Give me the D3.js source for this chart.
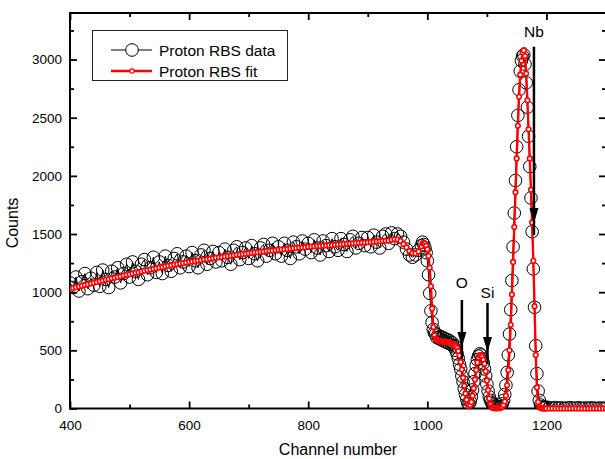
<!DOCTYPE html>
<html>
<head>
<meta charset="utf-8">
<script src="https://cdn.jsdelivr.net/npm/d3@7"></script>
<style>
body{margin:0;background:#fff;}
text{font-family:"Liberation Sans",Arial,sans-serif;fill:#000;}
</style>
</head>
<body>
<script>
// spectrum blocks: start channel, step, counts
const baseStart = 400, baseStep = 5
const peakStart = 990, peakStep = 2
const tailStart = 1200, tailStep = 5

const dataBase = [
  1080,1040,1130,1010,1090,1160,1030,1120,1060,1170,
  1050,1190,1110,1040,1180,1130,1210,1080,1160,1240,
  1130,1260,1180,1110,1240,1280,1150,1210,1300,1170,
  1260,1160,1310,1230,1180,1290,1330,1210,1260,1310,
  1220,1340,1270,1210,1320,1360,1240,1290,1350,1260,
  1340,1270,1370,1300,1240,1360,1390,1280,1340,1380,
  1290,1400,1330,1270,1380,1410,1310,1360,1420,1330,
  1390,1310,1420,1360,1290,1430,1390,1330,1440,1370,
  1420,1340,1450,1380,1320,1440,1400,1350,1460,1390,
  1360,1460,1410,1350,1450,1480,1380,1420,1470,1400,
  1470,1390,1490,1430,1380,1480,1500,1420,1510,1460,
  1500,1480,1430,1370,1320,1300,1320,1360]
const fitBase = [
  1030,1036,1043,1049,1056,1062,1069,1075,1082,1088,
  1095,1101,1107,1113,1119,1125,1131,1137,1143,1149,
  1155,1161,1167,1172,1178,1184,1190,1195,1201,1206,
  1212,1217,1222,1227,1232,1237,1242,1246,1251,1256,
  1260,1264,1268,1272,1276,1280,1284,1288,1292,1296,
  1300,1303,1307,1310,1314,1317,1321,1324,1328,1331,
  1335,1338,1341,1344,1347,1350,1353,1356,1359,1362,
  1365,1367,1370,1372,1375,1377,1380,1382,1385,1387,
  1390,1392,1394,1396,1398,1400,1402,1404,1406,1408,
  1410,1412,1414,1416,1418,1420,1422,1424,1426,1428,
  1430,1432,1434,1436,1438,1440,1442,1445,1450,1455,
  1452,1440,1415,1385,1355,1336,1335,1350]

const dataPeak = [
  1400,1430,1410,1380,1340,1270,1150,990,840,740,680,
  650,640,610,630,600,620,590,610,580,600,570,590,560,580,550,565,530,540,500,470,
  430,380,340,280,230,170,120,80,45,40,60,100,160,230,300,370,420,450,470,460,
  430,390,340,280,210,150,100,70,50,40,30,20,15,10,10,15,20,40,70,120,
  200,310,460,640,850,1100,1390,1680,1960,2250,2520,2740,2900,2990,3030,3040,2960,2800,2590,2340,
  2080,1810,1520,1200,870,540,300,150,70,30,15,10,5,5]
const fitPeak = [
  1395,1420,1425,1418,1400,1370,1310,1210,1050,860,700,
  630,600,590,585,582,580,578,576,574,572,570,568,566,563,560,556,551,545,536,520,
  495,455,400,335,265,195,130,75,35,20,30,55,110,175,250,330,395,440,460,458,
  445,420,385,320,240,160,85,35,12,5,3,2,2,2,3,5,8,15,30,60,
  110,200,330,500,720,980,1260,1560,1860,2150,2430,2680,2870,2990,3060,3080,3030,2880,2650,2400,
  2150,1880,1600,1270,880,460,180,55,15,5,2,1,1,1]

const dataTail = [12,6,3,8,2,5,1,4,7,2,3,6,1,4,2,5,3,1,4,2,3]
const fitTail = [1,1,1,1,1,1,1,1,1,1,1,1,1,1,1,1,1,1,1,1,1]

const xMajor = [400,600,800,1000,1200]
const xMinor = [500,700,900,1100,1300]
const yMajor = [0,500,1000,1500,2000,2500,3000]
const yMinor = [250,750,1250,1750,2250,2750,3250]

const labels = [
  {name:"O", channel:1058, from:933, to:529, at:1079},
  {name:"Si", channel:1101, from:907, to:486, at:993},
  {name:"Nb", channel:1179, from:3110, to:1595, at:3237}
]

const legendNames = ["Proton RBS data","Proton RBS fit"]

function block(start, step, counts) {
  return counts.map((c,i)=>({ch:start+i*step, c:c}))
}
const dataPts = [...block(baseStart,baseStep,dataBase), ...block(peakStart,peakStep,dataPeak), ...block(tailStart,tailStep,dataTail)]
const fitPts = [...block(baseStart,baseStep,fitBase), ...block(peakStart,peakStep,fitPeak), ...block(tailStart,tailStep,fitTail)]

const width = 605, height = 459
const L = 70, R = 606, T = 13, B = 408.5

const x = d3.scaleLinear().domain([400,1300]).range([L,R])
const y = d3.scaleLinear().domain([0,3400]).range([B,T])

const svg = d3.select("body").append("svg")
    .attr("width",width).attr("height",height)

svg.append("clipPath").attr("id","plotClip")
    .append("rect").attr("x",L).attr("y",T).attr("width",R-L).attr("height",B-T)
svg.append("clipPath").attr("id","fitClip")
    .append("rect").attr("x",L).attr("y",T).attr("width",R-L).attr("height",B-T+4)

// data
const dataG = svg.append("g").attr("clip-path","url(#plotClip)")
const line = d3.line().x(d=>x(d.ch)).y(d=>y(d.c))
dataG.append("path").datum(dataPts)
    .attr("d",line).attr("fill","none").attr("stroke","#000").attr("stroke-width",1)
dataG.selectAll("circle").data(dataPts).join("circle")
    .attr("cx",d=>x(d.ch)).attr("cy",d=>y(d.c)).attr("r",6.3)
    .attr("fill","none").attr("stroke","#000").attr("stroke-width",1)

// frame + ticks
const tickW = 1.8
const fmt = d3.format("d")
function styleAxis(g){
  g.select(".domain").remove()
  g.selectAll(".tick line").attr("stroke","#000").attr("stroke-width",tickW)
  g.selectAll("text").style("font-size","13.5px").attr("fill","#000")
}
svg.append("g").attr("transform",`translate(0,${B})`)
    .call(d3.axisBottom(x).tickValues(xMajor).tickSize(-7).tickPadding(12).tickFormat(fmt)).call(styleAxis)
svg.append("g").attr("transform",`translate(0,${B})`)
    .call(d3.axisBottom(x).tickValues(xMinor).tickSize(-4).tickFormat("")).call(styleAxis)
svg.append("g").attr("transform",`translate(0,${T})`)
    .call(d3.axisTop(x).tickValues(xMajor).tickSize(-7).tickFormat("")).call(styleAxis)
svg.append("g").attr("transform",`translate(0,${T})`)
    .call(d3.axisTop(x).tickValues(xMinor).tickSize(-4).tickFormat("")).call(styleAxis)
svg.append("g").attr("transform",`translate(${L},0)`)
    .call(d3.axisLeft(y).tickValues(yMajor).tickSize(-7).tickPadding(8).tickFormat(fmt)).call(styleAxis)
svg.append("g").attr("transform",`translate(${L},0)`)
    .call(d3.axisLeft(y).tickValues(yMinor).tickSize(-4).tickFormat("")).call(styleAxis)
svg.append("g").attr("transform",`translate(${R},0)`)
    .call(d3.axisRight(y).tickValues(yMajor).tickSize(-7).tickFormat("")).call(styleAxis)
svg.append("g").attr("transform",`translate(${R},0)`)
    .call(d3.axisRight(y).tickValues(yMinor).tickSize(-4).tickFormat("")).call(styleAxis)

svg.append("rect").attr("x",L).attr("y",T).attr("width",R-L).attr("height",B-T)
    .attr("fill","none").attr("stroke","#000").attr("stroke-width",2)

// fit on top
const fitG = svg.append("g").attr("clip-path","url(#fitClip)")
fitG.append("path").datum(fitPts)
    .attr("d",line).attr("fill","none").attr("stroke","#f00").attr("stroke-width",2.4)
fitG.selectAll("circle").data(fitPts).join("circle")
    .attr("cx",d=>x(d.ch)).attr("cy",d=>y(d.c)).attr("r",2.3)
    .attr("fill","#fff").attr("stroke","#f00").attr("stroke-width",1.6)

// arrows
const ann = svg.append("g")
labels.forEach(d=>{
  const ax = x(d.channel)
  ann.append("line").attr("x1",ax).attr("x2",ax)
      .attr("y1",y(d.from)).attr("y2",y(d.to)+12)
      .attr("stroke","#000").attr("stroke-width",2.5)
  ann.append("path")
      .attr("d",`M${ax},${y(d.to)}L${ax-4.5},${y(d.to)-15}L${ax+4.5},${y(d.to)-15}Z`)
      .attr("fill","#000")
  ann.append("text").attr("x",ax).attr("y",y(d.at))
      .attr("text-anchor","middle").attr("dominant-baseline","central")
      .style("font-size","15.5px").text(d.name)
})

// legend
const lg = svg.append("g")
lg.append("rect").attr("x",92.5).attr("y",30.5).attr("width",195).attr("height",50)
    .attr("fill","#fff").attr("stroke","#222").attr("stroke-width",1)
lg.append("line").attr("x1",111).attr("x2",152).attr("y1",50).attr("y2",50)
    .attr("stroke","#000").attr("stroke-width",1)
lg.append("circle").attr("cx",132).attr("cy",50).attr("r",6.3)
    .attr("fill","#fff").attr("stroke","#000").attr("stroke-width",1)
lg.append("line").attr("x1",111).attr("x2",152).attr("y1",71).attr("y2",71)
    .attr("stroke","#f00").attr("stroke-width",2.5)
lg.append("circle").attr("cx",132).attr("cy",71).attr("r",2.1)
    .attr("fill","#fff").attr("stroke","#f00").attr("stroke-width",1.2)
lg.selectAll("text.lg").data(legendNames).join("text").attr("class","lg")
    .attr("x",159).attr("y",(d,i)=>50+i*21)
    .attr("dominant-baseline","central").style("font-size","15.5px").text(d=>d)

// axis titles
svg.append("text").attr("x",(L+R)/2).attr("y",449)
    .attr("text-anchor","middle").attr("dominant-baseline","central")
    .style("font-size","16px").text("Channel number")
svg.append("text").attr("transform","translate(12.5,223) rotate(-90)")
    .attr("text-anchor","middle").attr("dominant-baseline","central")
    .style("font-size","16px").text("Counts")
</script>
</body>
</html>
